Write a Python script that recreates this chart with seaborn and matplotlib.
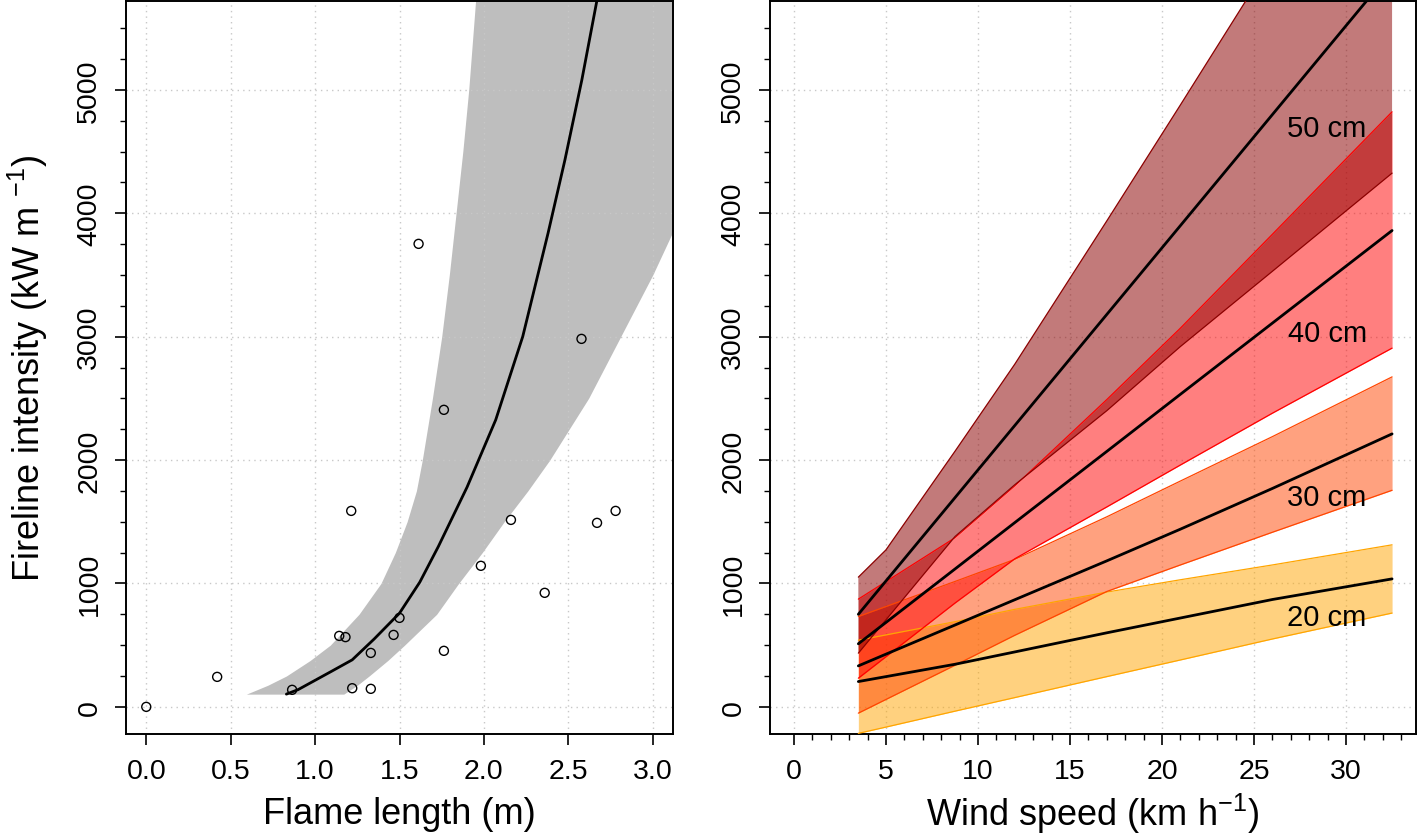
import matplotlib
matplotlib.use("Agg")
import numpy as np
import pandas as pd
import matplotlib.pyplot as plt
import seaborn as sns
from matplotlib.ticker import MultipleLocator, FixedLocator

# ---------------- Left panel data ----------------
flame_length = [0.0, 0.42, 0.864, 1.143, 1.18, 1.214, 1.22, 1.33, 1.33, 1.465,
                1.50, 1.613, 1.763, 1.763, 1.982, 2.16, 2.36, 2.578, 2.67, 2.78]
fireline_int = [0, 243, 138, 575, 565, 1588, 151, 437, 146, 583,
                721, 3752, 2407, 454, 1143, 1515, 924, 2982, 1491, 1588]

fit_flame = [0.83, 0.9, 1.0, 1.1, 1.22, 1.35, 1.5, 1.62, 1.73, 1.9, 2.07, 2.23, 2.38, 2.48, 2.58, 2.67, 2.8]
fit_int = [103, 140, 215, 290, 381, 550, 759, 1010, 1299, 1780, 2326, 3001, 3839, 4433, 5080, 5729, 6700]

band_int = [103, 175, 250, 375, 500, 750, 1000, 1250, 1500, 1750, 2000, 2500, 3000,
            3500, 4000, 4500, 5000, 5800]
band_flame_left = [0.593, 0.72, 0.83, 0.97, 1.09, 1.26, 1.39, 1.475, 1.545, 1.60, 1.635,
                   1.695, 1.75, 1.795, 1.835, 1.875, 1.91, 1.955]
band_flame_right = [1.17, 1.25, 1.32, 1.43, 1.53, 1.72, 1.85, 1.99, 2.12, 2.26, 2.39,
                    2.62, 2.81, 3.00, 3.17, 3.34, 3.50, 3.75]

# ---------------- Right panel data ----------------
wind = [3.5, 5.0, 8.75, 12, 17, 21, 26, 32.5]
i20_mid = [205, 245, 345, 445, 600, 720, 870, 1037]
i20_lo = [-215, -164, -35, 75, 245, 380, 550, 760]
i20_hi = [540, 583, 690, 790, 930, 1030, 1150, 1313]
i30_mid = [332, 427, 663, 868, 1183, 1440, 1770, 2212]
i30_lo = [-51, 60, 337, 580, 935, 1150, 1415, 1755]
i30_hi = [732, 813, 1016, 1195, 1540, 1830, 2190, 2674]
i40_mid = [511, 684, 1117, 1493, 2070, 2533, 3110, 3860]
i40_lo = [232, 406, 841, 1200, 1620, 1960, 2380, 2907]
i40_hi = [873, 1015, 1370, 1790, 2490, 3069, 3830, 4822]
i50_mid = [750, 1020, 1695, 2280, 3180, 3900, 4800, 5970]
i50_lo = [435, 705, 1380, 1800, 2400, 2920, 3530, 4325]
i50_hi = [1051, 1272, 2071, 2777, 3938, 4878, 6065, 7620]
depth_labels = ["20 cm", "30 cm", "40 cm", "50 cm"]
label_int = [729, 1702, 3031, 4692]

# ---------------- Style ----------------
sns.set_style("ticks")
plt.rcParams['font.family'] = ['Liberation Sans', 'DejaVu Sans']
plt.rcParams['mathtext.fontset'] = 'custom'
plt.rcParams['mathtext.rm'] = 'Liberation Sans'
plt.rcParams['mathtext.it'] = 'Liberation Sans:italic'
plt.rcParams['mathtext.bf'] = 'Liberation Sans:bold'
plt.rcParams['text.color'] = 'black'
plt.rcParams['axes.labelcolor'] = 'black'
plt.rcParams['xtick.color'] = 'black'
plt.rcParams['ytick.color'] = 'black'
plt.rcParams['axes.edgecolor'] = 'black'

W, H = 1418, 837
fig = plt.figure(figsize=(W / 100, H / 100), dpi=100)
ax1 = fig.add_axes([126 / W, 1 - 735 / H, 547 / W, 733 / H])
ax2 = fig.add_axes([770 / W, 1 - 735 / H, 646 / W, 733 / H])

grid_kw = dict(ls=(0, (1, 3)), color='#C8C8C8', lw=1.0)

# ---- Left panel ----
ax1.fill_betweenx(band_int, band_flame_left, band_flame_right, color='#BEBEBE', lw=0, zorder=1)
for v in np.arange(0, 3.01, 0.5):
    ax1.axvline(v, zorder=2, **grid_kw)
for v in range(0, 5001, 1000):
    ax1.axhline(v, zorder=2, **grid_kw)
fit_df = pd.DataFrame({'flame': fit_flame, 'intensity': fit_int})
sns.lineplot(data=fit_df, x='flame', y='intensity', ax=ax1, color='black', lw=2.0, zorder=4)
obs_df = pd.DataFrame({'flame': flame_length, 'intensity': fireline_int})
sns.scatterplot(data=obs_df, x='flame', y='intensity', ax=ax1, s=42, facecolor='none',
                edgecolor='black', linewidth=1.0, zorder=5)
ax1.set_xlim(-0.12, 3.12)
ax1.set_ylim(-220, 5720)
ax1.xaxis.set_major_locator(MultipleLocator(0.5))
ax1.xaxis.set_major_formatter(matplotlib.ticker.FormatStrFormatter('%.1f'))
ax1.set_xlabel('Flame length (m)', fontsize=26)
ax1.set_ylabel('Fireline intensity (kW m $^{\\mathregular{-1}}$)', fontsize=26)
ax1.xaxis.set_label_coords(0.5, -0.085)
ax1.yaxis.set_label_coords(-0.139, 0.5)

# ---- Right panel ----
for v in range(0, 31, 5):
    ax2.axvline(v, zorder=1, **grid_kw)
for v in range(0, 5001, 1000):
    ax2.axhline(v, zorder=1, **grid_kw)

bands = [
    (i20_lo, i20_hi, '#FFA500', 0.5),
    (i30_lo, i30_hi, '#FF4500', 0.5),
    (i40_lo, i40_hi, '#FF0000', 0.5),
    (i50_lo, i50_hi, '#8B0000', 0.52),
]
for lo, hi, col, a in bands:
    ax2.fill_between(wind, lo, hi, color=col, alpha=a, lw=0, zorder=2)
    ax2.plot(wind, lo, color=col, lw=0.9, zorder=3)
    ax2.plot(wind, hi, color=col, lw=0.9, zorder=3)

mid_df = pd.DataFrame({
    'wind': wind * 4,
    'intensity': i20_mid + i30_mid + i40_mid + i50_mid,
    'depth': sum([[d] * len(wind) for d in depth_labels], []),
})
sns.lineplot(data=mid_df, x='wind', y='intensity', units='depth', estimator=None,
             ax=ax2, color='black', lw=2.0, zorder=5)

for lab, yv in zip(depth_labels, label_int):
    ax2.text(28.97, yv, lab, fontsize=21, ha='center', va='center', zorder=6)

ax2.set_xlim(-1.3, 33.8)
ax2.set_ylim(-220, 5720)
ax2.xaxis.set_major_locator(MultipleLocator(5))
ax2.xaxis.set_minor_locator(FixedLocator(list(range(0, 34))))
ax2.set_xlabel('Wind speed (km h$^{\\mathregular{-1}}$)', fontsize=26)
ax2.set_ylabel('')
ax2.xaxis.set_label_coords(0.5, -0.077)

for ax in (ax1, ax2):
    ax.yaxis.set_major_locator(MultipleLocator(1000))
    ax.yaxis.set_minor_locator(MultipleLocator(250))
    ax.tick_params(which='major', length=8, width=1.2, labelsize=20.5, pad=9, direction='out')
    ax.tick_params(which='minor', length=4.3, width=1.0, direction='out')
    ax.tick_params(axis='y', labelrotation=90)
    for lab in ax.get_yticklabels():
        lab.set_va('center')
    for sp in ax.spines.values():
        sp.set_visible(True)
        sp.set_linewidth(1.4)
        sp.set_color('black')

fig.savefig('out.png', dpi=100)
